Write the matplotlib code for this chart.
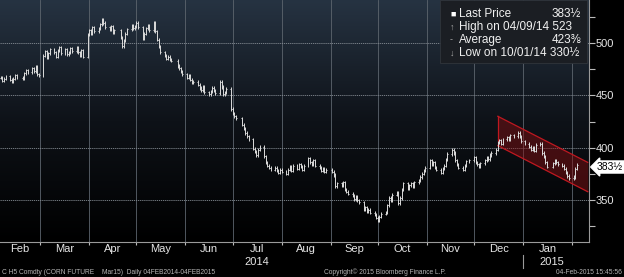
import numpy as np
import pandas as pd
import matplotlib
matplotlib.use("Agg")
import matplotlib.pyplot as plt
import matplotlib.dates as mdates
from matplotlib.colors import LinearSegmentedColormap

plt.rcParams['font.family'] = ['Liberation Sans', 'DejaVu Sans']

# CBOT holidays in the window
holidays = ["2014-02-17", "2014-04-18", "2014-05-26", "2014-07-04", "2014-09-01",
            "2014-11-27", "2014-12-25", "2015-01-01", "2015-01-19"]

# daily closes, one line per trading week
closes = [
    467, 464, 466, 468,            # Feb 4-7
    465, 463, 466, 469, 467,       # Feb 10-14
    466, 471, 474, 472,            # Feb 18-21
    476, 473, 477, 470, 469,       # Feb 24-28
    488, 492, 486, 490, 494,       # Mar 3-7
    491, 487, 493, 496, 490,       # Mar 10-14
    494, 489, 491, 495, 492,       # Mar 17-21
    496, 491, 488, 493, 487,       # Mar 24-28
    508, 512, 509, 515, 511,       # Mar 31-Apr 4
    514, 518, 522, 519, 515,       # Apr 7-11
    513, 516, 510, 512,            # Apr 14-17
    505, 497, 502, 509, 513,       # Apr 21-25
    517, 514, 516, 519, 515,       # Apr 28-May 2
    504, 509, 514, 517, 512,       # May 5-9
    519, 511, 503, 497, 491,       # May 12-16
    488, 485, 487, 484, 483,       # May 19-23
    478, 476, 473, 470,            # May 27-30
    467, 469, 465, 462, 463,       # Jun 2-6
    460, 457, 455, 458, 453,       # Jun 9-13
    451, 454, 457, 455, 452,       # Jun 16-20
    463, 458, 451, 453, 456,       # Jun 23-27
    437, 433, 430, 428,            # Jun 30-Jul 3
    422, 418, 414, 411, 408,       # Jul 7-11
    399, 396, 393, 398, 401,       # Jul 14-18
    392, 386, 383, 381, 379,       # Jul 21-25
    381, 378, 376, 379, 377,       # Jul 28-Aug 1
    375, 379, 382, 378, 383,       # Aug 4-8
    380, 384, 382, 379, 383,       # Aug 11-15
    390, 386, 384, 388, 383,       # Aug 18-22
    381, 378, 380, 377, 379,       # Aug 25-29
    377, 374, 363, 366,            # Sep 2-5
    364, 367, 360, 358, 356,       # Sep 8-12
    354, 351, 353, 350, 348,       # Sep 15-19
    341, 343, 339, 341, 338,       # Sep 22-26
    336, 333, 330.5, 334, 337,     # Sep 29-Oct 3
    338, 345, 352, 350, 355,       # Oct 6-10
    357, 347, 352, 360, 366,       # Oct 13-17
    361, 364, 366, 363, 367,       # Oct 20-24
    369, 372, 375, 378, 381,       # Oct 27-31
    388, 384, 386, 381, 379,       # Nov 3-7
    376, 380, 383, 389, 394,       # Nov 10-14
    398, 395, 388, 384, 381,       # Nov 17-21
    379, 383, 387, 388,            # Nov 24-28
    391, 386, 384, 382, 385,       # Dec 1-5
    388, 391, 389, 393, 395,       # Dec 8-12
    398, 405, 407, 404, 408,       # Dec 15-19
    410, 408, 412, 411,            # Dec 22-26
    414, 411, 406, 404,            # Dec 29-Jan 2
    401, 398, 400, 397, 403,       # Jan 5-9
    404, 395, 392, 386, 382,       # Jan 12-16
    385, 388, 386, 384,            # Jan 20-23
    383, 380, 376, 373, 371,       # Jan 26-30
    372, 380, 383.5,               # Feb 2-4
]

dates = pd.bdate_range("2014-02-04", "2015-02-04", freq="C", holidays=holidays)

# regression channel drawn by the user
channel_dates = ["2014-12-16", "2015-02-11"]
channel_top = [430, 386]
channel_bottom = [402, 358]

month_labels = ["Feb", "Mar", "Apr", "May", "Jun", "Jul", "Aug", "Sep", "Oct", "Nov", "Dec", "Jan"]
major_yticks = [350, 400, 450, 500]
minor_yticks = [325, 375, 425, 475, 525]

# ---- build bars
x = mdates.date2num(dates)
c = np.array(closes, dtype=float)
o = np.r_[c[0], c[:-1]]
hi = np.maximum(o, c) + 1.5
lo = np.minimum(o, c) - 1.5

fig = plt.figure(figsize=(6.24, 2.77), dpi=100, facecolor="black")
ax = fig.add_axes([0, 35 / 277, 589 / 624, 242 / 277])
ax.set_facecolor("black")

x0 = mdates.date2num(pd.Timestamp("2014-02-04")) - 0.5
x1 = mdates.date2num(pd.Timestamp("2015-02-11")) + 0.8
y0, y1 = 310, 541
ax.set_xlim(x0, x1)
ax.set_ylim(y0, y1)

cmap = LinearSegmentedColormap.from_list("bg", ["#000000", "#0e1218", "#263342"])
ax.imshow(np.linspace(0, 1, 256).reshape(-1, 1), extent=[x0, x1, y0, y1],
          aspect="auto", cmap=cmap, origin="lower", zorder=0)

# grid
month_starts = pd.date_range("2014-03-01", "2015-02-01", freq="MS")
for m in mdates.date2num(month_starts):
    ax.axvline(m, color="#5d656e", lw=0.6, zorder=1)
for v in major_yticks:
    ax.axhline(v, color="#858c93", lw=0.6, ls=(0, (1.5, 1)), zorder=1)

# channel
cd = mdates.date2num(pd.to_datetime(channel_dates))
ax.fill_between(cd, channel_bottom, channel_top, color="#8a0f12", alpha=0.45, lw=0, zorder=2)
ax.plot(cd, channel_top, color="#c01820", lw=0.9, zorder=3)
ax.plot(cd, channel_bottom, color="#c01820", lw=0.9, zorder=3)
ax.plot([cd[0], cd[0]], [channel_bottom[0], channel_top[0]], color="#c01820", lw=0.9, zorder=3)

# OHLC bars
bar_col = "#dcdcdc"
ax.vlines(x, lo, hi, color=bar_col, lw=0.7, zorder=4)
ax.hlines(o, x - 0.55, x, color=bar_col, lw=0.7, zorder=4)
ax.hlines(c, x, x + 0.55, color=bar_col, lw=0.7, zorder=4)

# axes styling
for s in ["top", "left"]:
    ax.spines[s].set_visible(False)
ax.spines["right"].set_color("#9a9a9a")
ax.spines["bottom"].set_color("#9a9a9a")
ax.spines["right"].set_linewidth(0.8)
ax.spines["bottom"].set_linewidth(0.8)
ax.yaxis.tick_right()
ax.set_yticks(major_yticks)
ax.set_yticks(minor_yticks, minor=True)
ax.set_yticklabels([str(v) for v in major_yticks])
ax.tick_params(axis="y", which="both", direction="out", length=4, width=0.8,
               color="#bbbbbb", labelcolor="#e6e6e6", labelsize=8, pad=1)
ax.set_xticks(mdates.date2num(month_starts))
ax.tick_params(axis="x", direction="out", length=2, width=0.8, color="#bbbbbb",
               labelbottom=False)


def fx(px):
    return px / 624


def fy(py):
    return 1 - py / 277


# month labels centred in visible part of each month
edges = [x0] + list(mdates.date2num(month_starts))
xform = ax.get_xaxis_transform()
lab_y = (242 - 249) / 242
year_y = (242 - 262) / 242
for i, lab in enumerate(month_labels):
    mid = (edges[i] + edges[i + 1]) / 2
    ax.text(mid, lab_y, lab, transform=xform, ha="center", va="center",
            color="#e6e6e6", fontsize=8)
jul_mid = (edges[5] + edges[6]) / 2
jan_mid = (edges[11] + edges[12]) / 2
ax.text(jul_mid, year_y, "2014", transform=xform, ha="center", va="center",
        color="#e6e6e6", fontsize=8)
ax.text(jan_mid + 3, year_y, "2015", transform=xform, ha="center", va="center",
        color="#e6e6e6", fontsize=8)
ax.plot([edges[11], edges[11]], [(242 - 255) / 242, (242 - 268) / 242], transform=xform,
        color="#9a9a9a", lw=0.8, clip_on=False)

# legend box
fig.patches.append(plt.Rectangle((fx(440), fy(63)), fx(587) - fx(440), fy(0) - fy(63),
                                 transform=fig.transFigure, facecolor="#1b1e23",
                                 edgecolor="#30353b", lw=0.6, zorder=5))
fig.add_artist(plt.Line2D([fx(447), fx(447)], [fy(14), fy(52)], color="#8a8a8a", lw=0.6))
legend_rows = [("■", "Last Price", "383½", 14), ("↑", "High on 04/09/14 523", "", 27),
               ("-", "Average", "423⅜", 40), ("↓", "Low on 10/01/14 330½", "", 53)]
for icon, label, val, py in legend_rows:
    fig.text(fx(450), fy(py), icon, color="white" if icon == "■" else "#aaaaaa",
             fontsize=6.5, va="center", ha="left", zorder=6)
    fig.text(fx(459), fy(py), label, color="#f0f0f0", fontsize=8.5, va="center", ha="left", zorder=6)
    if val:
        fig.text(fx(581), fy(py), val, color="#f0f0f0", fontsize=8.5, va="center", ha="right", zorder=6)

# last price tag
fig.text(fx(597), fy(167), "383½", color="black", fontsize=7.5, va="center", ha="left",
         bbox=dict(boxstyle="larrow,pad=0.1", facecolor="white", edgecolor="white"))

# footer
foot = dict(color="#b5b5b5", fontsize=4.8, va="center")
fig.text(fx(2), fy(272), "C H5 Comdty (CORN FUTURE", ha="left", **foot)
fig.text(fx(102), fy(272), "Mar15)  Daily 04FEB2014-04FEB2015", ha="left", **foot)
fig.text(fx(324), fy(272), "Copyright© 2015 Bloomberg Finance L.P.", ha="left", **foot)
fig.text(fx(622), fy(272), "04-Feb-2015 15:45:56", ha="right", **foot)

fig.savefig("out.png", dpi=100, facecolor="black")
